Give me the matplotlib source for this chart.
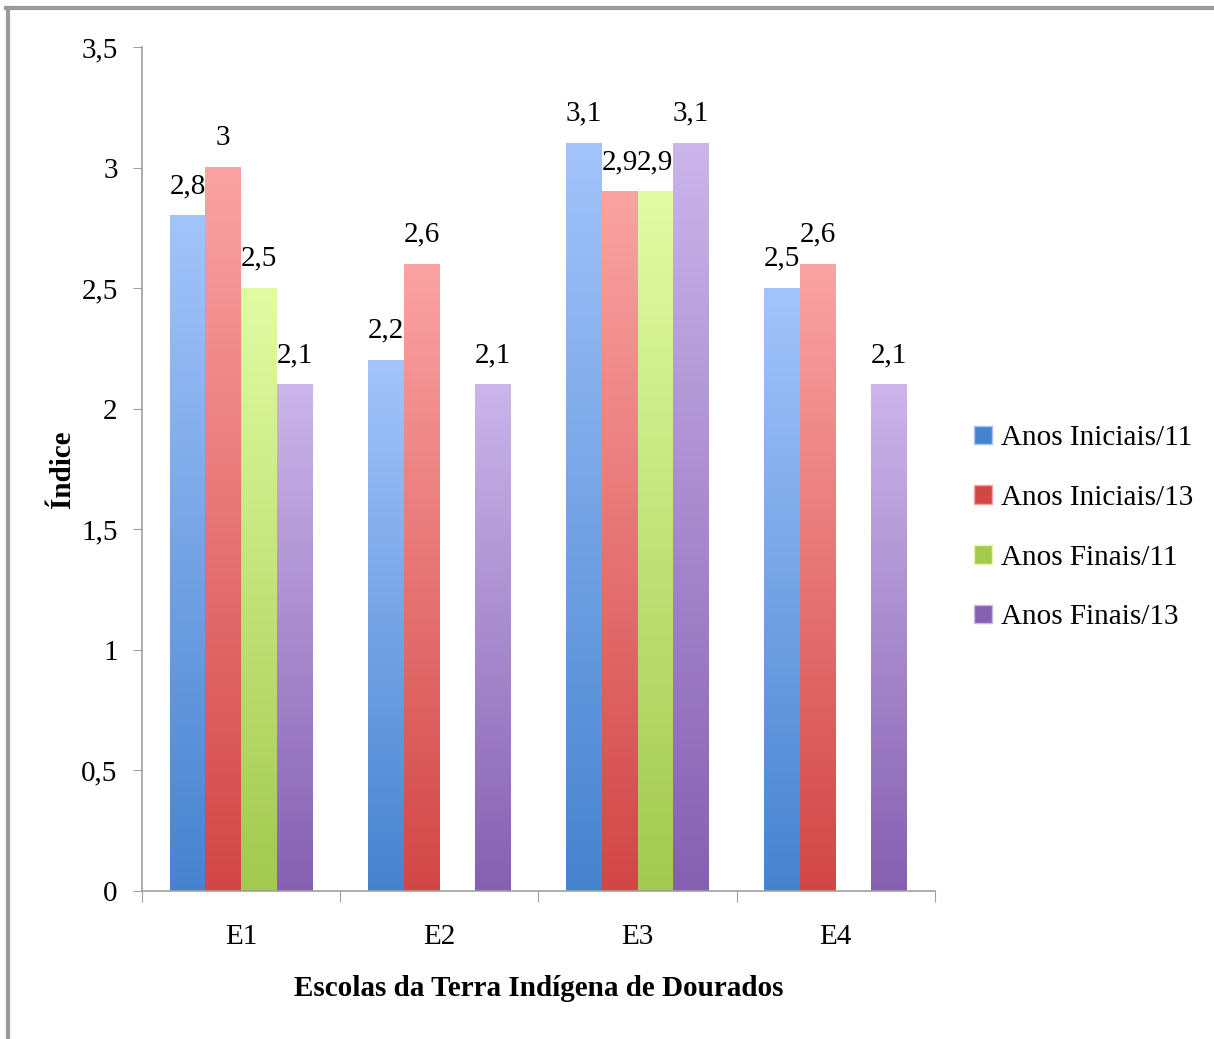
import numpy as np
import matplotlib
matplotlib.use("Agg")
import matplotlib.pyplot as plt
from matplotlib.colors import LinearSegmentedColormap
from matplotlib.patches import Patch
from matplotlib.lines import Line2D

plt.rcParams['font.family'] = ['Liberation Serif', 'DejaVu Serif']

escolas = ['E1', 'E2', 'E3', 'E4']
series = ['Anos Iniciais/11', 'Anos Iniciais/13', 'Anos Finais/11', 'Anos Finais/13']
iniciais_11 = [2.8, 2.2, 3.1, 2.5]
iniciais_13 = [3.0, 2.6, 2.9, 2.6]
finais_11 = [2.5, np.nan, 2.9, np.nan]
finais_13 = [2.1, 2.1, 3.1, 2.1]

# (top colour, bottom colour) of each gradient
cores = [('#a3c4fb', '#4683cf'),
         ('#fba3a3', '#d24646'),
         ('#e2fca4', '#a3c94f'),
         ('#cbb5ea', '#8560b1')]

fig = plt.figure(figsize=(12.14, 10.39), dpi=100)
ax = fig.add_axes([0.117, 0.1425, 0.653, 0.8123])

x = np.arange(len(escolas))
largura = 0.18
grad = np.linspace(0, 1, 256).reshape(-1, 1)

for i, vals in enumerate([iniciais_11, iniciais_13, finais_11, finais_13]):
    cmap = LinearSegmentedColormap.from_list('c%d' % i, [cores[i][1], cores[i][0]])
    pos = x + (i - 1.5) * largura
    for xp, v in zip(pos, vals):
        if np.isnan(v):
            continue
        ax.imshow(grad, cmap=cmap, origin='lower', aspect='auto',
                  extent=[xp - largura / 2, xp + largura / 2, 0, v], zorder=2)
        ax.annotate(('%g' % v).replace('.', ','), (xp, v), xytext=(0, 12),
                    textcoords='offset points', ha='center', va='bottom', fontsize=21)

ax.set_xlim(-0.5, 3.5)
ax.set_ylim(0, 3.5)
ax.set_yticks(np.arange(0, 3.51, 0.5))
ax.set_yticklabels([('%g' % t).replace('.', ',') for t in np.arange(0, 3.51, 0.5)])
ax.set_xticks(np.arange(-0.5, 3.6, 1))
ax.set_xticklabels([])
ax.set_xticks(x, minor=True)
ax.set_xticklabels(escolas, minor=True)
ax.tick_params(axis='x', which='minor', length=0, pad=24, labelsize=21)
ax.tick_params(axis='x', which='major', length=8, color='#a0a0a0', direction='out')
ax.tick_params(axis='y', length=6.5, color='#a0a0a0', labelsize=21, pad=11)

for s in ['top', 'right']:
    ax.spines[s].set_visible(False)
for s in ['left', 'bottom']:
    ax.spines[s].set_color('#a0a0a0')
    ax.spines[s].set_linewidth(1.2)

ax.set_xlabel('Escolas da Terra Indígena de Dourados', fontsize=21, fontweight='bold', labelpad=18)
ax.set_ylabel('Índice', fontsize=21, fontweight='bold', labelpad=4)

handles = [Patch(facecolor=cores[i][1], edgecolor=cores[i][0]) for i in range(4)]
fig.legend(handles, series, loc='center left', bbox_to_anchor=(0.781, 0.492),
           frameon=False, fontsize=21, handlelength=0.6, handleheight=0.6,
           handletextpad=0.3, labelspacing=1.15)

# frame lines along the top and left edge
fig.add_artist(Line2D([0.005, 1.0], [0.9925, 0.9925], color='#9a9a9a', lw=3))
fig.add_artist(Line2D([0.0065, 0.0065], [0.0, 0.9925], color='#9a9a9a', lw=3))

fig.savefig('out.png', dpi=100)
